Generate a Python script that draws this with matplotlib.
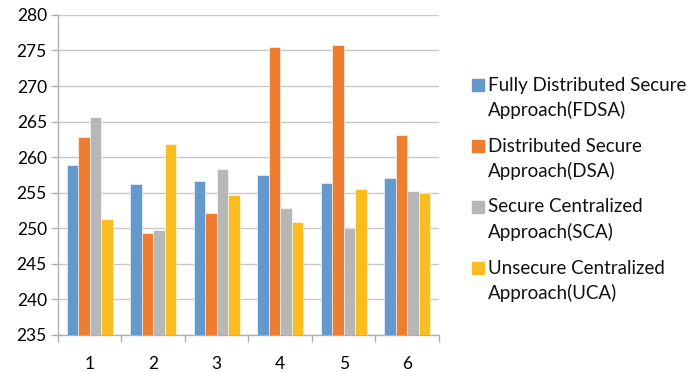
import numpy as np
import matplotlib.pyplot as plt
from matplotlib.patches import Rectangle

plt.rcParams['font.family'] = ['Lato', 'DejaVu Sans']

# scenario numbers and the value of each approach
scenarios = ['1', '2', '3', '4', '5', '6']
fdsa = [258.9, 256.2, 256.6, 257.5, 256.3, 257.1]
dsa = [262.9, 249.4, 252.2, 275.5, 275.7, 263.1]
sca = [265.6, 249.7, 258.4, 252.9, 250.1, 255.3]
uca = [251.3, 261.9, 254.7, 250.9, 255.5, 254.9]

labels = [('Fully Distributed Secure', 'Approach(FDSA)'),
          ('Distributed Secure', 'Approach(DSA)'),
          ('Secure Centralized', 'Approach(SCA)'),
          ('Unsecure Centralized', 'Approach(UCA)')]
colors = ['#6399CD', '#ED7D31', '#B7B7B7', '#F9BD22']

fig = plt.figure(figsize=(6.87, 3.72), dpi=100)
ax = fig.add_axes([0.0844, 0.0995, 0.5546, 0.8605])

x = np.arange(len(scenarios))
w = 0.182
series = [fdsa, dsa, sca, uca]
for i, vals in enumerate(series):
    ax.bar(x + (i - 1.5) * w, np.array(vals) - 235, bottom=235, width=w,
           color=colors[i], edgecolor='white', linewidth=0.4, zorder=3)

ax.set_ylim(235, 280)
ax.set_xlim(-0.5, len(scenarios) - 0.5)
ax.set_yticks(np.arange(235, 281, 5))
ax.yaxis.grid(True, color='#C8C8C8', linewidth=1.0, zorder=0)

# category labels in the middle, tick marks between the groups
ax.set_xticks(x)
ax.set_xticklabels(scenarios)
ax.set_xticks(np.arange(-0.5, len(scenarios), 1), minor=True)
ax.tick_params(axis='x', which='major', length=0, labelsize=12.5, pad=15)
ax.tick_params(axis='x', which='minor', length=5, color='#B0B0B0', width=1)
ax.tick_params(axis='y', length=5, color='#B0B0B0', width=1, labelsize=12.5, pad=3)

for side in ['top', 'right']:
    ax.spines[side].set_visible(False)
ax.spines['left'].set_color('#B0B0B0')
ax.spines['bottom'].set_color('#B0B0B0')
ax.spines['left'].set_linewidth(1)
ax.spines['bottom'].set_linewidth(1)

# legend on the right, square marker next to the first line of each label
W, H = 687, 372
for i, (line1, line2) in enumerate(labels):
    ytop = 85 + i * 61
    fig.patches.append(Rectangle((472 / W, 1 - (ytop + 6) / H), 12 / W, 12 / H,
                                 transform=fig.transFigure, color=colors[i]))
    fig.text(488 / W, 1 - ytop / H, line1, fontsize=13.5, va='center', color='#111111')
    fig.text(488 / W, 1 - (ytop + 25) / H, line2, fontsize=13.5, va='center', color='#111111')

fig.savefig('out.png', dpi=100)
